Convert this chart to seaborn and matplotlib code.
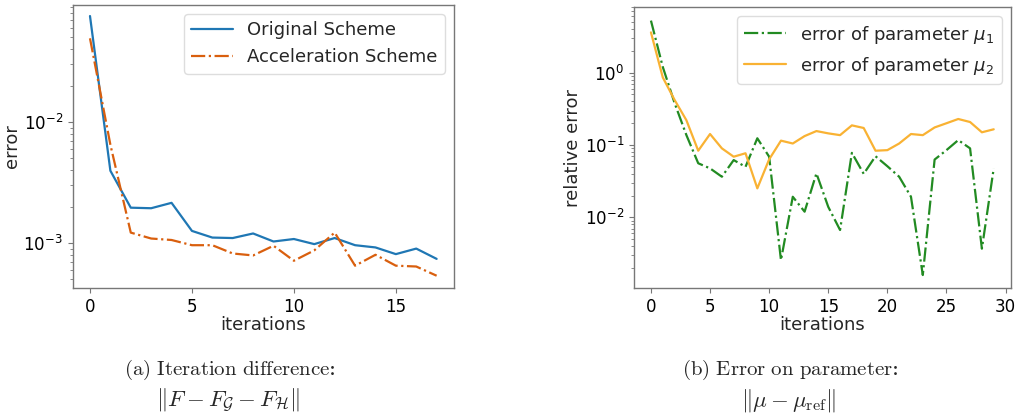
import numpy as np
import matplotlib
matplotlib.use('Agg')
import matplotlib.pyplot as plt
import seaborn as sns

# (a) iteration difference
iters_a = list(range(18))
original = [0.0752, 0.00396, 0.00196, 0.00194, 0.00215, 0.00126, 0.00111, 0.00110, 0.00120,
            0.00103, 0.00108, 0.00098, 0.00110, 0.00096, 0.00092, 0.00081, 0.00090, 0.00074]
accel = [0.0492, 0.0065, 0.00122, 0.00109, 0.00106, 0.00096, 0.00096, 0.00082, 0.00079,
         0.00095, 0.000714, 0.00087, 0.00122, 0.00065, 0.00080, 0.00065, 0.00064, 0.000537]

# (b) error on parameter
iters_b = list(range(30))
mu1 = [5.24, 1.2, 0.38, 0.137, 0.056, 0.0476, 0.0365, 0.062, 0.050, 0.124,
       0.069, 0.00257, 0.0193, 0.012, 0.0406, 0.0140, 0.0067, 0.078, 0.040, 0.070,
       0.051, 0.0365, 0.0193, 0.0016, 0.063, 0.085, 0.117, 0.090, 0.0037, 0.0476]
mu2 = [3.6, 0.86, 0.42, 0.22, 0.0835, 0.142, 0.090, 0.069, 0.077, 0.0252,
       0.0634, 0.115, 0.105, 0.133, 0.156, 0.145, 0.137, 0.187, 0.172, 0.0835,
       0.085, 0.105, 0.142, 0.137, 0.175, 0.20, 0.229, 0.208, 0.15, 0.165]

sns.set_style('ticks')
plt.rcParams['font.family'] = ['DejaVu Sans']

fig = plt.figure(figsize=(10.19, 4.19), dpi=100)
ax1 = fig.add_axes([0.0713, 0.3126, 0.3742, 0.6754])
ax2 = fig.add_axes([0.622, 0.312, 0.370, 0.6706])

sns.lineplot(x=iters_a, y=original, ax=ax1, color='#1f77b4', lw=1.6, label='Original Scheme')
sns.lineplot(x=iters_a, y=accel, ax=ax1, color='#d95f0e', lw=1.6, linestyle='-.',
             label='Acceleration Scheme')
ax1.set_yscale('log')
ax1.set_ylim(4.25e-4, 0.0927)
ax1.set_xticks([0, 5, 10, 15])
ax1.set_xlabel('iterations', fontsize=13, labelpad=0)
ax1.set_ylabel('error', fontsize=13, labelpad=2)

sns.lineplot(x=iters_b, y=mu1, ax=ax2, color='#228b22', lw=1.6, linestyle='-.',
             label=r'error of parameter $\mu_1$')
sns.lineplot(x=iters_b, y=mu2, ax=ax2, color='#f9b233', lw=1.6,
             label=r'error of parameter $\mu_2$')
ax2.set_yscale('log')
ax2.set_ylim(1.05e-3, 8.0)
ax2.set_xticks([0, 5, 10, 15, 20, 25, 30])
ax2.set_xlabel('iterations', fontsize=13, labelpad=0)
ax2.set_ylabel('relative error', fontsize=13, labelpad=2)

for ax in (ax1, ax2):
    for s in ax.spines.values():
        s.set_visible(True)
        s.set_color('#777777')
        s.set_linewidth(1.0)
    ax.tick_params(axis='both', which='both', colors='#777777', labelcolor='black',
                   labelsize=12)
    ax.legend(loc='upper right', fontsize=13, framealpha=1, edgecolor='#dddddd',
              fancybox=True, borderpad=0.4, handlelength=2.3)

# captions
cap = dict(ha='center', va='center', math_fontfamily='cm')
fig.text(230 / 1019, 1 - 370 / 419, r'$\mathrm{(a)\ Iteration\ difference}$:', family='serif',
         fontsize=15, **cap)
fig.text(228 / 1019, 1 - 400 / 419, r'$\|F - F_{\mathcal{G}} - F_{\mathcal{H}}\|$', fontsize=16.5, **cap)
fig.text(790 / 1019, 1 - 370 / 419, r'$\mathrm{(b)\ Error\ on\ parameter}$:', family='serif',
         fontsize=15, **cap)
fig.text(789 / 1019, 1 - 400 / 419, r'$\|\mu - \mu_{\mathrm{ref}}\|$', fontsize=16.5, **cap)

fig.savefig('out.png', dpi=100)
